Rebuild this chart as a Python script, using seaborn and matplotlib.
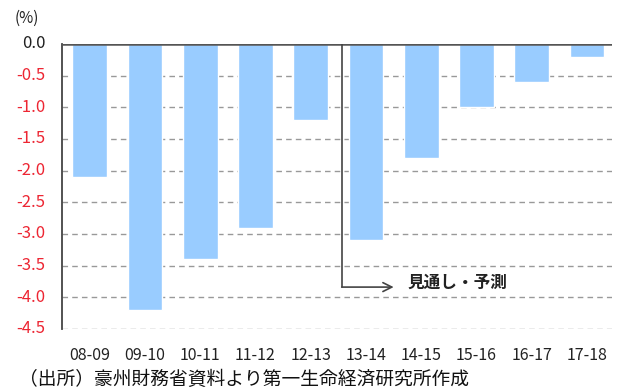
import matplotlib
matplotlib.use("Agg")
import matplotlib.pyplot as plt
import seaborn as sns
import pandas as pd

periods = ["08-09", "09-10", "10-11", "11-12", "12-13", "13-14", "14-15", "15-16", "16-17", "17-18"]
balance = [-2.1, -4.2, -3.4, -2.9, -1.2, -3.1, -1.8, -1.0, -0.6, -0.2]
yticks = [0.0, -0.5, -1.0, -1.5, -2.0, -2.5, -3.0, -3.5, -4.0, -4.5]
forecast_label = "見通し・予測"
source_text = "（出所）豪州財務省資料より第一生命経済研究所作成"

sns.set_theme(style="white")
plt.rcParams["font.family"] = ["Noto Sans CJK JP", "DejaVu Sans"]

df = pd.DataFrame({"period": periods, "balance": balance})

fig = plt.figure(figsize=(6.27, 3.92), dpi=100)
ax = fig.add_axes([0.099, 0.161, 0.877, 0.727])

sns.barplot(data=df, x="period", y="balance", color="#99CCFF", saturation=1,
            width=0.63, ax=ax, zorder=3)

ax.set_ylim(-4.5, 0)
ax.set_xlim(-0.5, 9.45)
ax.tick_params(axis="y", direction="in", length=4, width=1.2, color="#444444")
ax.tick_params(axis="x", length=0, pad=13, labelsize=11.5, labelcolor="#222222")
ax.set_yticks(yticks)
ax.set_yticklabels([])
ytrans = ax.get_yaxis_transform()
for v in yticks:
    col = (0.13, 0.13, 0.13) if abs(v) < 1e-9 else (0.93, 0.15, 0.2)
    t = ax.text(-0.03, v, f"{v:.1f}", transform=ytrans, ha="right", va="center",
                fontsize=12, clip_on=False)
    t.set_color(col)
ax.set_xlabel("")
ax.set_ylabel("")

for v in yticks[1:]:
    ax.axhline(v, color="#999999", lw=1.0, ls=(0, (4, 3)), zorder=1)
ax.axhline(0, color="#555555", lw=1.8, zorder=4)

for side in ["right", "bottom", "top"]:
    ax.spines[side].set_visible(False)
ax.spines["left"].set_color("#444444")
ax.spines["left"].set_linewidth(1.3)

# forecast marker
xv = 4.57
ax.plot([xv, xv], [0, -3.84], color="#444444", lw=1.2, zorder=5)
ax.annotate("", xy=(5.5, -3.84), xytext=(xv - 0.01, -3.84),
            arrowprops=dict(arrowstyle="->", color="#444444", lw=1.2,
                            mutation_scale=16, shrinkA=0, shrinkB=0), zorder=5)
ax.text(5.75, -3.78, forecast_label, fontsize=12, fontweight="bold",
        color="#222222", va="center", ha="left", zorder=6)

fig.text(0.024, 0.952, "(%)", fontsize=11, color="#222222", va="center", ha="left")
fig.text(0.03, 0.032, source_text, fontsize=13.5, color="#111111", va="center", ha="left")

fig.savefig("out.png", dpi=100)
